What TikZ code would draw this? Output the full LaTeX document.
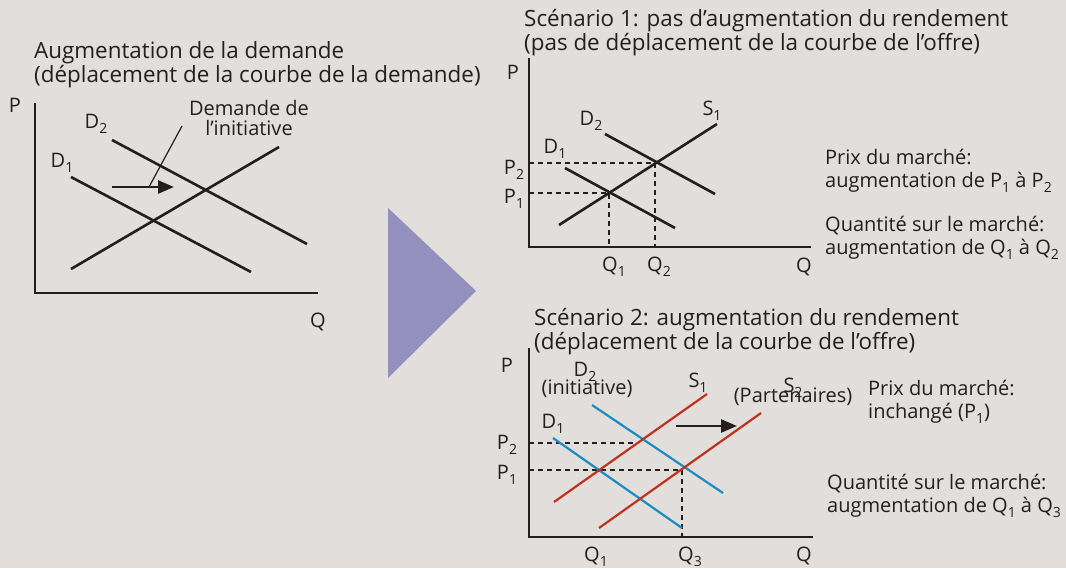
\documentclass[tikz,border=0pt]{standalone}
\usepackage{fontspec}
\setmainfont{Open Sans}
\usetikzlibrary{arrows.meta}
\definecolor{PanelGrey}{HTML}{E1DEDB}
\definecolor{ChartInk}{HTML}{231F20}
\definecolor{DemandBlue}{HTML}{1E8BC3}
\definecolor{SupplyRed}{HTML}{C0321E}
\definecolor{ShiftViolet}{HTML}{9490BE}
\newcommand{\idx}[1]{\raisebox{-5pt}{\fontsize{14}{14}\selectfont #1}}

\begin{document}
\begin{tikzpicture}[
    x=1pt, y=-1pt,
    lbl/.style={font=\fontsize{20}{23}\selectfont, text=ChartInk, inner sep=0pt},
    txt/.style={lbl, align=left, anchor=base west},
    ttl/.style={txt, font=\fontsize{22.4}{22}\selectfont},
    axis/.style={draw=ChartInk, line width=1.8pt},
    curve/.style={draw=ChartInk, line width=2.6pt},
    dcurve/.style={draw=DemandBlue, line width=2.2pt},
    scurve/.style={draw=SupplyRed, line width=2.2pt},
    guide/.style={draw=ChartInk, line width=1.2pt, dash pattern=on 5pt off 4pt},
    shiftarrow/.style={-{Triangle[length=16pt,width=13pt]}, draw=ChartInk, line width=2.6pt},
    pointer/.style={draw=ChartInk, line width=1.2pt}
  ]
  \useasboundingbox (0,0) rectangle (1066,568);
  \fill[PanelGrey] (0,0) rectangle (1066,568);

  % Left panel: demand shift
  \node[ttl] (titleDemand) at (34,82) {Augmentation de la demande\\(déplacement de la courbe de la demande)};
  \coordinate (aTop) at (35,103);
  \coordinate (aO) at (35,293);
  \coordinate (aEnd) at (318,293);
  \draw[axis] (aTop) -- (aO) -- (aEnd);
  \node[lbl] (aP) at (15,105) {P};
  \node[lbl] (aQ) at (318,322) {Q};
  \coordinate (aD1s) at (71,177);  \coordinate (aD1e) at (251,272);
  \coordinate (aD2s) at (112,140); \coordinate (aD2e) at (307,244);
  \coordinate (aSs) at (71,269);   \coordinate (aSe) at (279,147);
  \draw[curve] (aD1s) -- (aD1e);
  \draw[curve] (aD2s) -- (aD2e);
  \draw[curve] (aSs) -- (aSe);
  \node[lbl] (aD1) at (62,163) {D\idx{1}};
  \node[lbl] (aD2) at (96,124) {D\idx{2}};
  \coordinate (aArrS) at (112,187);
  \coordinate (aArrE) at (174,187);
  \coordinate (aArrM) at (149,187);
  \draw[shiftarrow] (aArrS) -- (aArrE);
  \node[lbl, font=\fontsize{20}{19.5}\selectfont, align=center, anchor=base] (aNote) at (249,135) {Demande de\\l’initiative};
  \coordinate (aNoteEnd) at (182,126);
  \draw[pointer] (aNoteEnd) -- (aArrM);

  % Big arrow
  \fill[ShiftViolet] (388,208) -- (388,378) -- (476,291) -- cycle;

  % Scenario 1
  \node[ttl] (titleOne) at (524,50) {Scénario 1: pas d’augmentation du rendement\\(pas de déplacement de la courbe de l’offre)};
  \coordinate (bTop) at (529,58);
  \coordinate (bO) at (529,247);
  \coordinate (bEnd) at (811,247);
  \draw[axis] (bTop) -- (bO) -- (bEnd);
  \node[lbl] (bP) at (513,72) {P};
  \node[lbl] (bQ) at (804,267) {Q};
  \coordinate (bD1s) at (565,168); \coordinate (bD1e) at (675,228);
  \coordinate (bD2s) at (605,134); \coordinate (bD2e) at (715,194);
  \coordinate (bSs) at (559,225);  \coordinate (bSe) at (717,124);
  \coordinate (bX1) at (609,193);
  \coordinate (bX2) at (655,163);
  \draw[guide] (529,193) -- (bX1) -- (609,247);
  \draw[guide] (529,163) -- (bX2) -- (655,247);
  \draw[curve] (bD1s) -- (bD1e);
  \draw[curve] (bD2s) -- (bD2e);
  \draw[curve] (bSs) -- (bSe);
  \node[lbl] (bD1) at (555,149) {D\idx{1}};
  \node[lbl] (bD2) at (591,121) {D\idx{2}};
  \node[lbl] (bS1) at (712,111) {S\idx{1}};
  \node[lbl] (bP2) at (514,170) {P\idx{2}};
  \node[lbl] (bP1) at (514,199) {P\idx{1}};
  \node[lbl] (bQ1) at (614,267) {Q\idx{1}};
  \node[lbl] (bQ2) at (659,267) {Q\idx{2}};
  \node[txt] (bPrice) at (825,187) {Prix du marché:\\augmentation de P\idx{1} à P\idx{2}};
  \node[txt] (bQty) at (825,254) {Quantité sur le marché:\\augmentation de Q\idx{1} à Q\idx{2}};

  % Scenario 2
  \node[ttl] (titleTwo) at (534,349) {Scénario 2: augmentation du rendement\\(déplacement de la courbe de l’offre)};
  \coordinate (cTop) at (529,348);
  \coordinate (cO) at (529,537);
  \coordinate (cEnd) at (813,537);
  \draw[axis] (cTop) -- (cO) -- (cEnd);
  \node[lbl] (cP) at (507,365) {P};
  \node[lbl] (cQ) at (804,556) {Q};
  \coordinate (cD1s) at (553,438); \coordinate (cD1e) at (682,528);
  \coordinate (cD2s) at (592,405); \coordinate (cD2e) at (723,493);
  \coordinate (cS1s) at (554,502); \coordinate (cS1e) at (707,394);
  \coordinate (cS2s) at (599,528); \coordinate (cS2e) at (761,413);
  \coordinate (cX2) at (638,443);
  \coordinate (cX3) at (682,470);
  \draw[guide] (529,443) -- (cX2);
  \draw[guide] (529,470) -- (cX3) -- (682,537);
  \draw[dcurve] (cD1s) -- (cD1e);
  \draw[dcurve] (cD2s) -- (cD2e);
  \draw[scurve] (cS1s) -- (cS1e);
  \draw[scurve] (cS2s) -- (cS2e);
  \coordinate (cArrS) at (676,426);
  \coordinate (cArrE) at (737,426);
  \draw[shiftarrow] (cArrS) -- (cArrE);
  \node[lbl, align=center, anchor=base] (cInit) at (587,394) {(initiative)};
  \node[lbl] (cD2) at (585,372) {D\idx{2}};
  \node[lbl] (cD1) at (553,424) {D\idx{1}};
  \node[lbl] (cS1) at (698,383) {S\idx{1}};
  \node[lbl, anchor=base] (cPart) at (793,402) {(Partenaires)};
  \node[lbl] (cS2) at (793,388) {S\idx{2}};
  \node[lbl] (cP2) at (507,445) {P\idx{2}};
  \node[lbl] (cP1) at (507,475) {P\idx{1}};
  \node[lbl] (cQ1) at (596,557) {Q\idx{1}};
  \node[lbl] (cQ3) at (690,557) {Q\idx{3}};
  \node[txt] (cPrice) at (868,418) {Prix du marché:\\inchangé (P\idx{1})};
  \node[txt] (cQty) at (827,512) {Quantité sur le marché:\\augmentation de Q\idx{1} à Q\idx{3}};

\end{tikzpicture}
\end{document}
